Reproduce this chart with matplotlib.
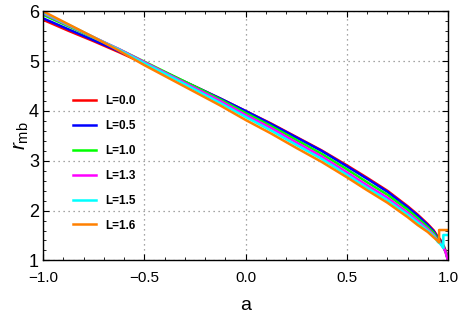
import matplotlib
matplotlib.use("Agg")
import matplotlib.pyplot as plt
from matplotlib.ticker import MultipleLocator, FuncFormatter

# spin values
a_main = [-1.0, -0.875, -0.75, -0.625, -0.5, -0.375, -0.25, -0.125, 0.0, 0.125, 0.25, 0.375,
          0.5, 0.6, 0.7, 0.8, 0.85, 0.9, 0.93, 0.95, 0.96, 0.97, 0.98, 0.99, 1.0]

r_L00 = [5.83, 5.61, 5.40, 5.18, 4.95, 4.72, 4.49, 4.25, 4.00, 3.75, 3.48, 3.21,
         2.91, 2.66, 2.40, 2.09, 1.92, 1.73, 1.60, 1.47, 1.43, 1.36, 1.28, 1.18, 1.00]
r_L05 = [5.86, 5.64, 5.42, 5.20, 4.96, 4.73, 4.49, 4.25, 4.00, 3.74, 3.47, 3.20,
         2.89, 2.64, 2.38, 2.07, 1.90, 1.71, 1.58, 1.45, 1.40, 1.33, 1.25, 1.16, 1.00]
r_L10 = [5.93, 5.70, 5.47, 5.24, 4.99, 4.74, 4.49, 4.23, 3.96, 3.70, 3.42, 3.14,
         2.83, 2.57, 2.32, 2.02, 1.85, 1.67, 1.55, 1.42, 1.38, 1.31, 1.24, 1.15, 1.00]

a_L13 = [-1.0, -0.875, -0.75, -0.625, -0.5, -0.375, -0.25, -0.125, 0.0, 0.125, 0.25, 0.375,
         0.5, 0.6, 0.7, 0.8, 0.85, 0.9, 0.93, 0.95, 0.96, 0.97, 0.985, 1.0]
r_L13 = [5.96, 5.72, 5.48, 5.24, 4.98, 4.72, 4.46, 4.20, 3.92, 3.66, 3.37, 3.09,
         2.77, 2.51, 2.26, 1.96, 1.80, 1.63, 1.51, 1.39, 1.36, 1.30, 1.20, 1.00]

a_L15 = [-1.0, -0.875, -0.75, -0.625, -0.5, -0.375, -0.25, -0.125, 0.0, 0.125, 0.25, 0.375,
         0.5, 0.6, 0.7, 0.8, 0.85, 0.9, 0.93, 0.95, 0.96, 0.97, 0.977, 0.977, 1.0]
r_L15 = [5.98, 5.73, 5.48, 5.23, 4.96, 4.70, 4.43, 4.16, 3.88, 3.61, 3.32, 3.04,
         2.72, 2.46, 2.21, 1.92, 1.76, 1.60, 1.49, 1.37, 1.34, 1.29, 1.25, 1.51, 1.51]

a_L16 = [-1.0, -0.875, -0.75, -0.625, -0.5, -0.375, -0.25, -0.125, 0.0, 0.125, 0.25, 0.375,
         0.5, 0.6, 0.7, 0.8, 0.85, 0.9, 0.93, 0.95, 0.956, 0.956, 1.0]
r_L16 = [6.00, 5.74, 5.48, 5.21, 4.92, 4.65, 4.38, 4.11, 3.82, 3.55, 3.26, 2.98,
         2.67, 2.41, 2.16, 1.87, 1.71, 1.57, 1.46, 1.39, 1.36, 1.61, 1.61]

labels = ["L=0.0", "L=0.5", "L=1.0", "L=1.3", "L=1.5", "L=1.6"]
colors = ["#ff0000", "#0000ff", "#00ff00", "#ff00ff", "#00ffff", "#ff8000"]

series = [(a_main, r_L00), (a_main, r_L05), (a_main, r_L10),
          (a_L13, r_L13), (a_L15, r_L15), (a_L16, r_L16)]

plt.rcParams['font.family'] = ['Liberation Sans', 'DejaVu Sans']
plt.rcParams['mathtext.fontset'] = 'custom'
plt.rcParams['mathtext.it'] = 'Liberation Sans:italic'
plt.rcParams['mathtext.rm'] = 'Liberation Sans'

fig = plt.figure(figsize=(4.63, 3.18), dpi=100)
ax = fig.add_axes([0.0929, 0.1811, 0.8747, 0.7834])

for (xs, ys), lab, c in zip(series, labels, colors):
    ax.plot(xs, ys, color=c, lw=1.8, label=lab, solid_joinstyle='round')

ax.set_xlim(-1, 1)
ax.set_ylim(1, 6)
ax.xaxis.set_major_locator(MultipleLocator(0.5))
ax.xaxis.set_minor_locator(MultipleLocator(0.1))
ax.yaxis.set_major_locator(MultipleLocator(1))
ax.yaxis.set_minor_locator(MultipleLocator(0.2))
ax.xaxis.set_major_formatter(FuncFormatter(lambda v, p: f"{v:.1f}".replace('-', '\u2212')))
ax.yaxis.set_major_formatter(FuncFormatter(lambda v, p: f"{v:.0f}"))
ax.tick_params(which='both', direction='in', top=True, right=True, color='black')
ax.tick_params(which='major', length=4, width=0.8)
ax.tick_params(which='minor', length=2.2, width=0.6)
ax.tick_params(axis='x', labelsize=11, pad=7.5)
ax.tick_params(axis='y', labelsize=13, pad=3)
ax.grid(True, which='major', linestyle=(0, (1, 3)), color='#888888', lw=0.9)
for s in ax.spines.values():
    s.set_linewidth(1.0)

ax.set_xlabel("a", fontsize=14, labelpad=9)
ax.set_ylabel(r"$r_{\rm mb}$", fontsize=15, labelpad=-2)

leg = ax.legend(loc='upper left', bbox_to_anchor=(0.073, 0.663), frameon=False,
                prop={'weight': 'bold', 'size': 8.5}, handlelength=2.0,
                labelspacing=1.09, handletextpad=0.75, borderpad=0, borderaxespad=0)

fig.savefig("out.png", dpi=100)
